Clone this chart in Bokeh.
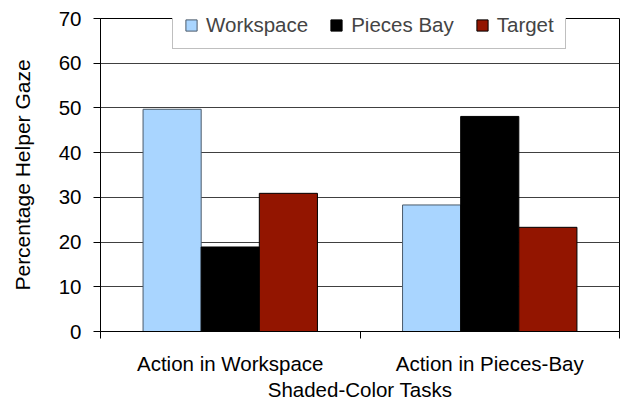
from bokeh.plotting import figure
from bokeh.models import (ColumnDataSource, Range1d, FixedTicker, Legend, LegendItem)
from bokeh.transform import dodge
from bokeh.embed import file_html
from bokeh.resources import INLINE

# Gaze share per task condition
categories = ["Action in Workspace", "Action in Pieces-Bay"]
series = ["Workspace", "Pieces Bay", "Target"]
workspace = [49.7, 28.3]
pieces_bay = [18.9, 48.1]
target = [30.9, 23.3]
y_ticks = [0, 10, 20, 30, 40, 50, 60, 70]

colors = ["#A9D5FF", "#000000", "#931500"]
edges = ["#4A5A6A", "#000000", "#000000"]
FONT = "Liberation Sans"
TICK_SIZE = "20.5px"
LABEL_SIZE = "21px"

centers = [i + 0.5 for i in range(len(categories))]
src = ColumnDataSource(dict(x=centers, Workspace=workspace,
                            **{"Pieces Bay": pieces_bay}, Target=target))

p = figure(width=639, height=404, output_backend="svg", toolbar_location=None,
           x_range=Range1d(0, len(categories)), y_range=Range1d(0, 70),
           min_border_left=100, min_border_right=20, min_border_top=18,
           min_border_bottom=73)

bar_w = 0.224
renderers = []
for k, (name, c, e) in enumerate(zip(series, colors, edges)):
    r = p.vbar(x=dodge("x", (k - 1) * bar_w, range=p.x_range), top=name,
               width=bar_w, source=src, fill_color=c, line_color=e, line_width=1)
    renderers.append(r)

# x axis: labels centred under each group, tick marks between groups
p.xaxis.ticker = FixedTicker(ticks=centers, minor_ticks=list(range(len(categories) + 1)))
p.xaxis.major_label_overrides = {c: lab for c, lab in zip(centers, categories)}
p.xaxis.major_tick_line_color = None
p.xaxis.major_tick_out = 0
p.xaxis.major_tick_in = 0
p.xaxis.minor_tick_out = 7
p.xaxis.minor_tick_in = 0
p.xaxis.minor_tick_line_color = "black"
p.xaxis.major_label_standoff = 13
p.xaxis.axis_label = "Shaded-Color Tasks"
p.xaxis.axis_label_standoff = 0

p.yaxis.ticker = FixedTicker(ticks=y_ticks)
p.yaxis.minor_tick_line_color = None
p.yaxis.major_tick_out = 7
p.yaxis.major_tick_in = 0
p.yaxis.major_tick_line_color = "black"
p.yaxis.major_label_standoff = 12
p.yaxis.axis_label = "Percentage Helper Gaze"
p.yaxis.axis_label_standoff = 22

for ax in (p.xaxis, p.yaxis):
    ax.axis_line_color = "black"
    ax.major_label_text_font = FONT
    ax.major_label_text_font_size = TICK_SIZE
    ax.major_label_text_color = "black"
    ax.axis_label_text_font = FONT
    ax.axis_label_text_font_size = LABEL_SIZE
    ax.axis_label_text_font_style = "normal"
    ax.axis_label_text_color = "black"
p.xaxis.axis_label_text_font_size = TICK_SIZE

p.xgrid.grid_line_color = None
p.ygrid.ticker = FixedTicker(ticks=y_ticks)
p.ygrid.grid_line_color = "#404040"
p.ygrid.grid_line_width = 1

p.outline_line_color = "black"
p.outline_line_width = 1
p.background_fill_color = "white"
p.border_fill_color = "white"

# legend box sits across the top edge of the plot frame
legend = Legend(items=[LegendItem(label=n, renderers=[r]) for n, r in zip(series, renderers)],
                orientation="horizontal", location=(72, 282),
                glyph_width=14, glyph_height=14, label_standoff=8, spacing=21,
                padding=11,
                label_text_font=FONT, label_text_font_size=TICK_SIZE,
                border_line_color="#808080", border_line_width=1,
                background_fill_color="white", background_fill_alpha=1.0)
p.add_layout(legend, "center")

open("out.html", "w").write(file_html(p, INLINE))
